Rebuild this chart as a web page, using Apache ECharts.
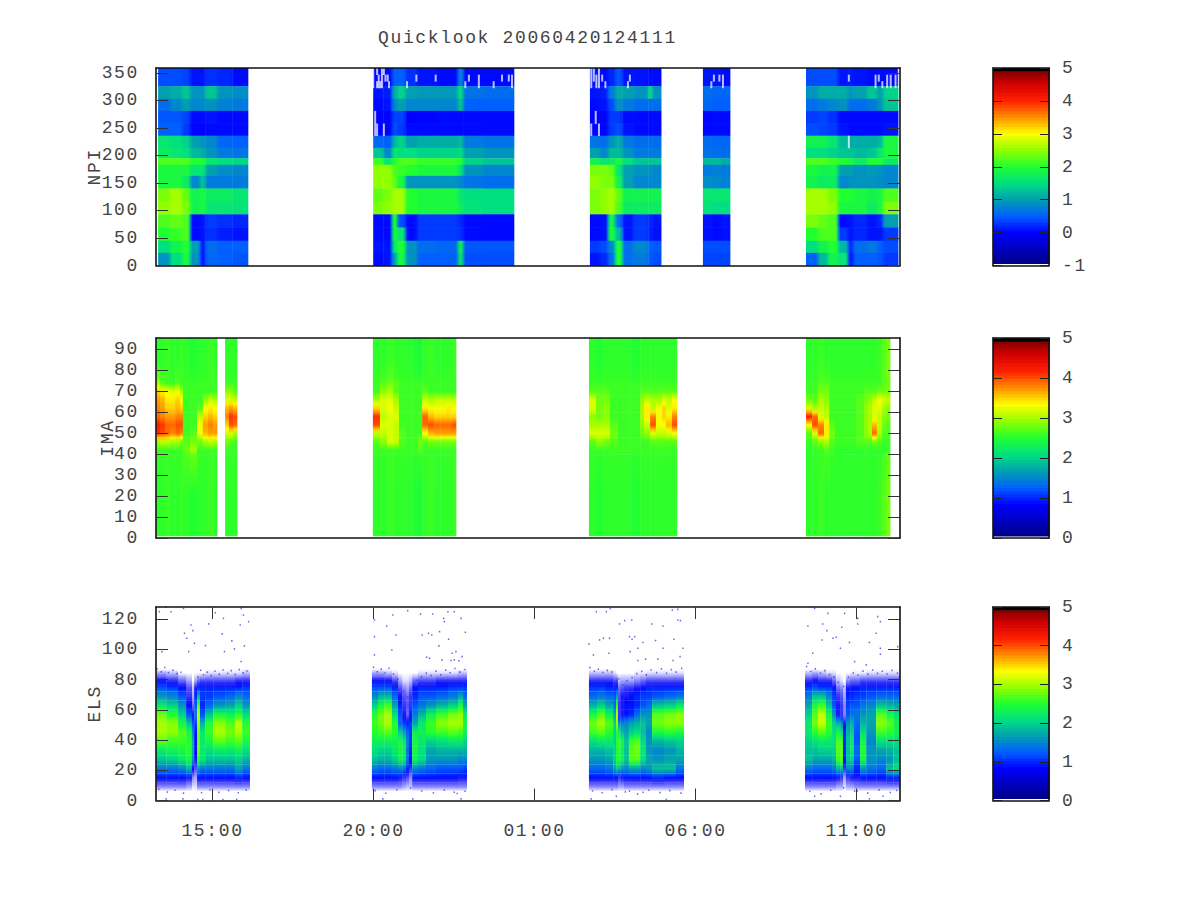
<!DOCTYPE html>
<html><head><meta charset="utf-8">
<style>html,body{margin:0;background:#fff}#c{width:1200px;height:900px}svg text{letter-spacing:1.65px}</style>
<script src="https://cdn.jsdelivr.net/npm/echarts@6/dist/echarts.min.js"></script>
</head><body><div id="c"></div>
<script>
const titleText = 'Quicklook 20060420124111';
const timeTicks = [15,20,25,30,35];
const timeLabels = ['15:00','20:00','01:00','06:00','11:00'];
const npiTicks = [0,50,100,150,200,250,300,350];
const imaTicks = [0,10,20,30,40,50,60,70,80,90];
const elsTicks = [0,20,40,60,80,100,120];

// NPI: sector edges (deg, top to bottom), time edges (hours), rows of log values
const npiEdges = [359,326,303,281,258,236,214,195,183,163,140,116,93,69,45,23,0];
const npiT1 = [13.31,13.68,14.05,14.30,14.61,14.77,15.14,15.61,16.10];
const npi1 = [
[.4,.4,.35,.1,.1,.25,.2,.05],[1.0,1.1,1.3,.9,.9,1.3,.9,.85],[.6,.8,1.0,.8,.8,.9,.75,.7],[.45,.45,.35,.05,.05,.1,.05,.05],
[.5,.5,.3,.02,.02,.05,.05,.05],[1.6,1.5,1.4,1.0,.9,.8,.55,.5],[1.7,1.6,1.5,1.2,1.1,.9,.7,.65],[2.2,2.2,2.2,2.0,2.0,1.6,1.5,1.45],
[1.9,1.9,1.9,1.6,1.6,1.0,.85,.8],[1.9,1.9,1.7,.8,1.3,.7,.7,.7],[2.4,2.6,2.3,1.8,1.9,1.7,1.7,1.6],[2.5,2.6,2.4,1.8,1.9,1.6,1.6,1.55],
[2.2,2.3,2.2,.05,.1,.3,.25,.2],[2.0,2.1,2.2,.05,.1,.25,.15,.1],[1.5,1.8,2.0,1.0,.1,.6,.5,.5],[.9,1.5,1.9,.9,.1,.55,.5,.45]];
const npiT2 = [19.99,20.30,20.57,20.73,20.98,21.35,21.97,22.62,22.78,23.40,24.36];
const npi2 = [
[.05,.05,.5,.5,.25,.1,.05,.8,.05,.05],[.1,.15,1.1,1.4,1.0,.95,.95,1.5,.65,.6],[.05,.1,.8,1.0,.8,.8,.8,1.3,.5,.5],[.02,.02,.35,.35,0,.02,.05,.05,.05,.05],
[.02,.02,.4,.3,.05,.05,.05,.05,.05,.05],[.55,.5,1.2,1.4,1.0,1.1,1.1,1.2,.7,.65],[1.3,.8,1.6,1.5,1.5,1.4,1.4,1.5,1.0,.9],[2.1,1.6,2.0,2.2,2.2,2.1,2.1,2.0,1.4,1.3],
[2.5,2.5,2.2,2.1,2.0,1.9,1.9,1.6,.9,.8],[2.5,2.5,2.3,1.9,.9,.9,.9,.8,.65,.6],[2.3,2.4,2.6,2.6,2.0,1.9,1.9,1.6,1.5,1.5],[2.4,2.5,2.6,2.6,2.0,1.9,1.9,1.7,1.55,1.5],
[.05,.05,2.0,.4,.05,.3,.3,.2,.05,.05],[.05,.05,1.9,1.6,.05,.3,.3,.25,.05,.05],[.1,.1,1.6,2.0,.9,.6,.55,1.8,.45,.45],[.05,.1,1.0,1.9,.9,.5,.5,1.6,.4,.4]];
const npiT3 = [26.72,27.03,27.28,27.50,27.72,28.06,28.53,28.65,28.93];
const npi3 = [
[.1,.05,.2,.45,.1,.1,.05,.05],[.1,.15,.7,1.1,1.0,.9,1.5,.9],[.05,.1,.4,.9,.7,.6,.6,.6],[.02,.02,.3,.3,.05,.05,.05,.05],
[.02,.02,.3,.4,.1,.05,.05,.05],[.65,.6,.9,1.1,.7,.6,.6,.6],[1.0,.8,1.2,1.2,.9,.7,.7,.7],[1.8,1.6,1.7,1.9,1.5,1.3,1.3,1.3],
[2.4,2.4,2.3,1.6,1.0,.9,.9,.8],[2.5,2.4,2.4,1.8,1.0,.8,.8,.8],[2.4,2.5,2.6,2.3,1.8,1.8,1.8,1.8],[2.4,2.5,2.6,2.2,1.7,1.7,1.7,1.7],
[.05,.08,1.8,.6,.1,.3,.2,.1],[.05,.08,1.9,1.2,.1,.3,.15,.08],[.3,.4,.8,2.0,.6,.8,.5,.45],[.1,.2,.6,2.0,.6,.7,.45,.4]];
const npiT4 = [30.23,30.51,30.79,31.07];
const npi4 = [
[.1,.1,.05],[.6,.55,.55],[.55,.5,.5],[.03,.05,.05],[.03,.05,.05],[.6,.55,.55],[.65,.6,.6],[1.2,1.2,1.1],
[.7,.75,.7],[.85,.8,.75],[1.6,1.6,1.6],[1.55,1.5,1.5],[.1,.05,.1],[.08,.05,.08],[.4,.4,.4],[.35,.35,.35]];
const npiT5 = [33.43,33.80,34.11,34.42,34.73,34.89,35.32,35.63,35.82,36.29];
const npi5 = [
[.4,.4,.4,.1,.15,.1,.05,.05,.05],[.9,1.1,1.1,1.1,.9,1.0,1.3,1.0,1.4],[.6,.7,.8,.9,.6,.6,.7,.9,1.3],[.3,.35,.25,.05,.05,.05,.05,.05,.05],
[.4,.35,.3,.1,.05,.05,.05,.05,.1],[1.8,1.8,1.6,1.2,1.1,1.1,1.1,1.2,1.9],[1.5,1.5,1.4,1.3,1.3,1.2,1.3,1.6,1.9],[2.2,2.2,2.1,2.0,1.9,1.7,2.0,2.0,1.7],
[1.9,1.8,1.8,1.0,1.0,.9,.95,.9,.8],[1.8,1.7,1.7,.8,.9,.9,.9,.85,.8],[2.6,2.6,2.4,2.0,2.0,1.9,1.8,1.9,2.2],[2.6,2.6,2.5,1.9,1.9,1.9,1.7,1.9,2.4],
[2.4,2.3,2.2,.05,.1,.2,.1,.2,1.0],[2.0,2.2,2.2,.3,.1,.2,.1,.1,.3],[1.5,1.8,2.0,1.2,.2,.6,.7,.5,.4],[.5,1.2,1.8,1.6,.1,.5,.5,.45,.3]];
// NPI data dropouts: [hour, low deg, high deg]
const npiDrops = [[19.96,347,359],[20.08,347,359],[20.23,347,359],[20.29,347,359],[19.96,335,347],[20.13,335,347],[20.23,335,347],[20.34,335,347],[20.41,335,347],
[19.96,323,335],[20.08,323,335],[20.13,323,335],[20.18,323,335],[20.23,323,335],[20.45,323,335],[20.02,258,281],[20.08,236,258],[20.29,236,258],[20.02,236,258],
[21.01,323,335],[21.30,335,347],[21.90,335,347],[22.82,323,335],[22.93,335,347],[23.24,323,347],[23.70,323,335],[23.96,335,347],[24.17,335,347],[24.27,323,347],
[26.73,323,359],[26.81,335,359],[26.89,323,347],[26.97,323,359],[27.07,335,347],[27.17,323,335],[27.87,323,335],[27.93,335,347],[26.73,236,258],[26.87,258,281],[26.97,236,258],
[30.46,323,335],[30.54,335,347],[30.71,335,347],[30.82,323,347],[34.73,335,347],[35.56,323,347],[35.66,335,347],[35.77,323,335],[35.92,323,347],[36.03,323,347],[36.18,323,347],[36.28,323,359],[34.73,214,236]];

// IMA: energy edges, time edges, rows of log values (top to bottom)
const imaEdges = [95.4,76,72,68,64,60,56,52,48,44,40,1];
const imaT1 = [13.25,13.37,13.52,13.68,13.84,13.99,14.08,14.30,14.52,14.70,14.86,15.02,15.14];
const ima1 = [
[2.55,2.55,2.6,2.55,2.55,2.6,2.55,2.5,2.55,2.55,2.6,2.55],[3.0,2.7,2.6,2.6,2.7,2.6,2.6,2.6,2.6,2.6,2.6,2.6],[3.5,3.4,3.3,3.2,3.3,3.0,2.6,2.6,2.6,2.6,2.6,2.6],
[3.7,3.6,3.4,3.4,3.5,3.3,2.6,2.6,2.6,2.9,3.1,3.0],[3.8,3.7,3.5,3.5,3.6,3.5,2.6,2.6,2.7,3.3,3.4,3.3],[3.9,3.8,3.7,3.7,3.8,3.8,2.6,2.6,3.1,3.5,3.6,3.5],
[4.2,4.1,3.9,3.9,4.0,4.0,2.6,2.6,3.3,3.7,3.8,3.7],[4.1,4.0,3.9,3.8,3.9,3.8,2.6,2.7,3.3,3.6,3.7,3.7],[3.0,3.1,3.1,3.0,3.0,2.8,2.7,2.8,2.8,3.0,3.1,3.0],
[2.6,2.6,2.6,2.6,2.6,2.6,2.8,3.0,2.6,2.6,2.6,2.6],[2.55,2.55,2.6,2.55,2.55,2.6,2.55,2.5,2.55,2.55,2.6,2.55]];
const imaT1b = [15.39,15.51,15.64,15.76];
const ima1b = [[2.55,2.55,2.55],[2.6,2.6,2.6],[2.9,2.9,2.7],[3.2,3.2,3.1],[3.6,3.7,3.6],[3.8,4.1,4.0],[3.5,4.0,3.9],[3.2,3.2,3.0],[2.8,2.7,2.6],[2.6,2.6,2.6],[2.55,2.55,2.55]];
const imaT2 = [19.98,20.20,20.42,20.61,20.79,21.01,21.20,21.38,21.51,21.69,21.88,22.07,22.25,22.41,22.56];
const ima2 = [
[2.55,2.55,2.6,2.55,2.55,2.55,2.5,2.45,2.55,2.6,2.55,2.55,2.55,2.6],[2.6,2.7,2.8,2.7,2.6,2.6,2.6,2.6,2.6,2.6,2.6,2.6,2.6,2.6],[2.6,2.9,3.0,2.7,2.6,2.6,2.6,2.6,2.7,2.6,2.6,2.6,2.6,2.6],
[3.0,3.2,3.2,3.0,2.6,2.6,2.6,2.6,3.1,3.0,3.1,3.1,3.1,3.1],[3.5,3.2,3.3,3.1,2.6,2.6,2.6,2.6,3.4,3.3,3.3,3.3,3.4,3.3],[4.1,3.1,3.2,3.2,2.6,2.6,2.6,2.6,3.9,3.6,3.5,3.5,3.5,3.5],
[4.0,3.2,3.2,3.1,2.6,2.6,2.6,2.6,3.9,4.0,3.9,3.9,3.9,4.0],[3.1,3.1,3.2,3.1,2.7,2.6,2.6,2.6,3.3,3.6,3.7,3.7,3.7,3.7],[2.7,2.9,3.2,3.1,2.7,2.6,2.6,2.8,2.7,2.8,2.8,2.8,2.8,2.8],
[2.6,2.6,2.6,2.6,2.6,2.6,2.6,2.7,2.6,2.6,2.6,2.6,2.6,2.6],[2.55,2.55,2.6,2.55,2.55,2.55,2.5,2.45,2.55,2.6,2.55,2.55,2.55,2.6]];
const imaT3 = [26.69,26.91,27.13,27.34,27.59,27.97,28.28,28.40,28.59,28.77,28.96,29.08,29.27,29.42];
const ima3 = [
[2.55,2.5,2.55,2.55,2.55,2.5,2.55,2.55,2.55,2.55,2.55,2.55,2.55],[2.6,2.6,2.6,2.6,2.6,2.6,2.6,2.6,2.6,2.6,2.6,2.6,2.6],[2.7,2.7,2.7,2.6,2.6,2.6,2.7,2.7,2.7,2.7,2.7,2.7,2.7],
[3.2,2.8,2.8,2.6,2.6,2.6,2.9,3.1,3.0,3.0,3.2,3.1,3.3],[3.2,2.8,2.9,2.6,2.6,2.6,3.0,3.4,3.1,3.3,3.5,3.2,3.4],[2.9,2.8,2.9,2.6,2.6,2.6,3.0,3.4,3.8,3.3,3.5,3.4,3.8],
[3.0,3.0,3.0,2.7,2.6,2.6,2.9,3.1,4.0,3.3,3.3,3.6,4.0],[3.2,3.2,3.2,2.8,2.6,2.6,2.8,2.9,3.2,3.1,3.1,3.2,3.3],[2.7,2.9,2.8,2.7,2.6,2.6,2.6,2.6,2.7,2.7,2.7,2.7,2.7],
[2.6,2.6,2.6,2.6,2.6,2.6,2.6,2.6,2.6,2.6,2.6,2.6,2.6],[2.55,2.5,2.55,2.55,2.55,2.5,2.55,2.55,2.55,2.55,2.55,2.55,2.55]];
const imaT4 = [33.43,33.62,33.80,33.99,34.15,34.33,34.64,34.98,35.23,35.35,35.48,35.63,35.79,35.91,36.04];
const ima4 = [
[2.55,2.55,2.6,2.55,2.55,2.55,2.55,2.55,2.55,2.55,2.55,2.6,2.7,2.8],[2.6,2.6,2.7,2.7,2.6,2.6,2.6,2.6,2.6,2.6,2.6,2.6,2.7,2.8],[2.6,2.6,2.8,2.8,2.6,2.6,2.6,2.6,2.7,2.7,2.7,2.8,2.8,2.8],
[2.8,2.7,3.0,2.9,2.6,2.6,2.6,2.7,2.8,2.9,3.1,3.3,3.2,3.1],[3.2,3.0,3.1,3.0,2.6,2.6,2.6,2.7,2.9,3.0,3.2,3.2,3.0,2.9],[4.2,3.9,3.2,3.1,2.6,2.6,2.6,2.7,2.9,3.0,3.2,3.1,2.9,2.8],
[3.3,4.0,3.8,3.4,2.7,2.6,2.6,2.7,2.9,3.0,3.6,3.1,2.8,2.7],[2.7,3.2,3.9,3.4,2.8,2.6,2.6,2.7,2.9,3.0,3.9,3.0,2.7,2.7],[2.6,2.7,2.9,3.0,2.7,2.6,2.6,2.7,2.7,2.7,2.8,2.7,2.6,2.6],
[2.55,2.6,2.6,2.7,2.6,2.55,2.55,2.55,2.6,2.55,2.55,2.55,2.55,2.6],[2.55,2.55,2.6,2.55,2.55,2.55,2.55,2.55,2.55,2.55,2.55,2.6,2.7,2.8]];

// ELS: level edges, time edges, one array of values per time column (top level to bottom level)
const elsEdges = [87,82,77,72,66,60,54,48,42,36,30,24,18,12,6];
const elsT1 = [13.25,13.56,13.93,14.18,14.36,14.43,14.52,14.61,14.77,15.02,15.39,15.70,15.92,16.16];
const els1 = [
[.3,.8,1.2,1.6,2.2,2.8,3.0,3.0,2.7,2.2,1.9,1.4,.9,.4],[.2,.7,1.1,1.5,2.0,2.5,2.9,2.9,2.6,2.3,2.0,1.4,.9,.4],[0,.5,.9,1.2,1.6,2.0,2.4,2.7,2.6,2.4,2.2,1.5,.9,.4],
[0,.3,.6,.7,.9,1.2,1.9,2.4,2.5,2.5,2.4,1.8,.8,.3],[0,0,.2,.3,.5,.8,1.2,1.6,1.8,1.8,1.6,.9,.4,.1],[0,.3,.8,1.0,1.2,1.4,1.1,.9,.9,.9,.8,.6,.3,.1],
[0,.5,1.0,1.8,2.7,3.1,3.0,2.8,2.8,2.8,2.5,1.6,.9,.4],[0,.6,1.0,1.1,1.0,1.2,1.8,2.2,2.2,2.2,2.2,1.4,.9,.4],[.1,.6,1.0,1.1,1.3,1.9,2.5,2.6,2.4,2.1,1.9,1.4,.9,.4],
[.1,.6,1.0,1.2,1.6,2.4,2.9,3.0,2.7,2.2,1.9,1.4,.9,.4],[.1,.6,1.0,1.3,1.7,2.3,2.7,2.8,2.6,2.2,1.9,1.4,.9,.4],[.1,.7,1.0,1.5,2.0,2.5,3.1,3.0,2.7,2.3,2.0,1.7,1.0,.4],
[.2,.7,1.1,1.3,1.6,2.1,2.5,2.6,2.4,2.1,1.8,1.4,.9,.4]];
const elsT2 = [19.95,20.14,20.33,20.57,20.76,20.89,21.01,21.10,21.20,21.38,21.63,21.94,22.31,22.62,22.78,22.90];
const els2 = [
[.3,.8,1.2,1.5,2.0,2.5,2.6,2.5,2.3,2.1,1.9,1.4,.9,.4],[.3,.8,1.2,1.8,2.4,2.8,2.8,2.6,2.3,2.0,1.8,1.3,.9,.4],[.2,.8,1.2,1.8,2.6,3.0,3.0,2.7,2.3,2.0,1.8,1.3,.9,.4],
[.1,.6,1.0,1.3,1.7,2.1,2.5,2.5,2.3,2.2,2.0,1.4,.9,.4],[0,.3,.6,.8,1.0,1.2,1.3,2.0,2.4,2.4,2.3,1.5,.8,.4],[0,.1,.4,.6,.7,.8,1.1,1.7,2.2,2.3,2.2,1.4,.7,.3],
[0,.1,.3,.5,.6,.5,1.0,1.3,1.5,1.4,1.4,1.0,.6,.2],[0,.2,.5,.7,.7,.8,1.1,1.1,1.1,1.0,.9,.7,.4,.2],[0,.5,.9,1.0,1.2,1.4,1.7,2.3,2.4,2.4,2.3,1.5,.9,.4],
[.1,.6,1.0,1.2,1.4,1.8,2.2,2.3,2.2,2.1,2.1,1.4,.9,.4],[.1,.6,1.0,1.2,1.6,2.3,2.6,2.5,2.0,1.7,1.6,1.3,.9,.4],[.1,.7,1.0,1.3,1.8,2.6,2.9,2.6,2.1,1.8,1.6,1.2,.9,.4],
[.1,.7,1.1,1.4,2.0,2.8,3.0,2.7,2.2,1.8,1.6,1.2,.9,.4],[.2,.7,1.1,1.7,2.4,2.9,3.0,2.6,2.2,1.8,1.5,1.2,.8,.4],[.2,.7,1.1,1.3,1.7,2.2,2.4,2.3,2.0,1.8,1.5,1.1,.8,.4]];
const elsT3 = [26.69,26.94,27.19,27.44,27.53,27.59,27.66,27.78,27.93,28.09,28.28,28.46,28.65,29.02,29.39,29.64];
const els3 = [
[.2,.7,1.1,1.3,1.8,2.4,2.8,2.6,2.1,1.8,1.6,1.3,.9,.4],[.2,.7,1.1,1.4,2.0,2.7,3.0,2.7,2.2,1.8,1.6,1.3,.9,.4],[.2,.7,1.0,1.3,1.7,2.3,2.7,2.5,2.2,1.9,1.7,1.4,.9,.4],
[.1,.6,1.0,1.2,1.3,1.7,2.0,2.0,2.0,2.0,2.0,1.7,.9,.4],[0,.6,1.0,1.7,2.6,3.1,3.0,2.5,2.5,2.4,2.5,2.0,.9,.4],[0,.2,.5,.6,.7,.7,1.6,2.3,2.6,2.6,2.5,1.8,.7,.3],
[0,.3,.6,.8,.8,.8,1.5,1.9,2.4,2.3,2.3,1.6,.8,.3],[0,.3,.7,.8,.9,.9,1.5,1.7,1.9,1.9,1.9,1.5,.9,.4],[0,.3,.7,.9,.9,1.0,1.7,2.0,2.6,2.7,2.7,1.7,.9,.4],
[.05,.4,.8,1.0,1.0,1.3,1.8,2.1,2.7,2.8,2.7,1.7,.9,.4],[.05,.5,.9,1.1,1.2,1.6,1.9,1.9,2.1,2.2,2.1,1.5,.9,.4],[.1,.6,1.0,1.1,1.3,1.6,1.7,1.5,1.6,1.6,1.7,1.6,.9,.4],
[.1,.6,1.0,1.2,1.9,2.7,2.8,2.4,1.8,1.5,1.6,1.9,1.0,.4],[.1,.6,1.0,1.3,2.0,2.8,2.9,2.5,1.9,1.6,1.7,1.9,.9,.4],[.1,.6,1.0,1.4,2.2,2.9,2.9,2.4,2.0,1.8,1.7,1.4,.9,.4]];
const elsT4 = [33.40,33.62,33.80,34.05,34.24,34.36,34.49,34.58,34.67,34.80,34.92,35.11,35.30,35.61,35.92,36.14,36.35];
const els4 = [
[.2,.7,1.1,1.4,1.7,2.0,2.2,2.2,2.0,1.9,1.9,1.4,.9,.4],[.3,.8,1.2,1.9,2.4,2.7,2.8,2.5,2.1,1.9,1.7,1.3,.9,.4],[.2,.7,1.1,1.9,2.6,3.1,3.1,2.7,2.2,2.0,1.7,1.3,.9,.4],
[.1,.7,1.1,1.5,1.9,2.4,2.6,2.5,2.2,2.0,1.7,1.3,.9,.4],[.1,.5,.9,1.1,1.2,1.6,2.0,2.1,2.1,2.0,1.8,1.4,.9,.4],[0,.2,.5,.7,.8,.8,1.8,2.4,2.7,2.7,2.6,1.8,.8,.3],
[0,.1,.4,.6,.7,.7,1.6,2.1,2.6,2.7,2.7,1.9,.7,.3],[0,0,.2,.3,.4,.4,.8,1.0,1.0,1.0,.9,.7,.3,.1],[0,.4,.8,1.0,1.1,1.2,1.6,1.8,1.9,1.9,1.9,1.5,.7,.3],
[.05,.5,.9,1.0,1.2,1.4,1.8,2.0,2.2,2.2,2.0,1.5,.8,.3],[.05,.5,.9,1.1,1.2,1.4,1.3,1.2,1.2,1.3,1.2,1.0,.8,.4],[.05,.6,1.0,1.1,1.4,1.6,1.8,2.1,2.4,2.5,2.4,1.6,.9,.4],
[.1,.6,1.0,1.2,1.5,1.7,1.7,1.6,1.5,1.6,1.6,1.4,.9,.4],[.1,.6,1.0,1.3,1.9,2.7,2.9,2.6,2.1,1.7,1.5,1.3,.9,.4],[.1,.6,1.0,1.3,1.8,2.4,2.7,2.5,2.1,1.8,1.6,1.9,1.0,.4],
[.1,.6,1.0,1.3,1.7,2.1,2.3,2.3,2.1,1.9,1.9,2.1,1.0,.4]];
// isolated ELS counts outside the main population: [hour, level]
const elsDots = [[13.35,124.9],[13.71,124.9],[14.33,116.1],[14.88,116.8],[14.13,110.6],[14.39,112.4],[15.30,110.2],[14.20,107.3],[14.44,104],[14.26,98.5],[14.78,102.5],[15.60,105.6],[15.68,100.3],[15.37,98.5],[15.99,102.3],[15.96,122.7],[15.34,120.5],[15.09,124.2],[16.12,118.3],[15.86,116.1],[15.89,91.9],[13.43,98.5],[13.56,127.8],[14.10,127.1],[15.89,127.1],
[20.60,122.7],[20.41,115.4],[21.06,125.6],[21.46,123.4],[21.84,123.4],[22.31,124.9],[22.51,124.9],[22.18,120.5],[22.20,118.3],[22.72,120.5],[20.03,119.4],[20.70,109.5],[20.03,108.4],[20.57,99.6],[20.03,96.3],[21.51,109.5],[21.71,110.6],[22.05,111.7],[21.81,109.5],[22.33,106.7],[22.85,111.3],[22.03,102.3],[22.44,97.4],[22.56,98.5],[21.65,94.8],[21.74,94.1],[22.13,93],[22.41,92.6],[22.51,93],[22.65,92.4],[22.75,95.2],
[26.92,124.9],[27.23,124.9],[27.35,127.1],[27.64,116.8],[27.80,119],[28.02,119.4],[28.64,116.8],[28.99,115.4],[29.28,126],[29.45,126.4],[29.45,119.4],[29.53,119],[26.69,103.6],[27.02,106.2],[27.33,107.3],[27.14,107.3],[27.31,97.4],[26.83,96.3],[27.95,108.4],[28.11,108.4],[28.03,106.7],[27.97,98.5],[28.21,100.7],[28.37,104.5],[28.76,105.8],[29.33,106.7],[28.99,100.7],[29.61,100.7],[28.21,92.6],[28.45,93.5],[28.83,93.5],[29.30,92.6],[29.52,95.2],
[33.70,127.1],[34.11,123.8],[34.63,123.8],[35.04,116.8],[35.04,120.5],[35.66,121.6],[35.74,118.3],[33.49,115.4],[33.95,116.8],[34.54,114.6],[34.08,112.4],[35.61,110.6],[34.27,107.3],[34.37,108],[33.93,106.2],[34.78,104.5],[35.40,104.5],[35.74,100.7],[33.64,97.4],[36.28,101.8],[35.74,96.8],[34.50,100.7],[34.94,91.9],[35.30,89.7],[33.49,90.8],
[13.56,1.1],[14.08,1.1],[14.54,.7],[14.70,.7],[15.75,.7],[15.32,.7],[20.29,1.1],[21.22,1.1],[22.72,1.1],[22.51,5.5],[26.76,1.1],[27.54,2.8],[27.95,6.2],[29.09,.7],[28.37,5.5],[33.70,2.8],[34.50,2.8],[34.94,6.2],[35.40,1.1],[35.82,2.8]];
// ELS counts around the fuzzy rim of the population: [hour, level]
const elsRim = [[13.28,87.2],[13.41,85.1],[13.52,88],[13.63,84.6],[13.77,86.2],[13.9,83.9],[14.02,84.8],[14.55,81.5],[14.63,86.1],[14.72,83.2],[14.84,84.9],[14.96,82.6],[15.08,85.5],[15.21,83.4],[15.33,86.3],[15.47,84.1],[15.58,85.9],[15.7,83.3],[15.83,86.6],[15.95,84.4],[16.07,85.7],
[20,88.1],[20.11,85.2],[20.24,86.9],[20.36,84.3],[20.48,87.5],[20.62,83.7],[20.76,80.4],[20.93,72.2],[21.06,68.4],[21.2,72.8],[21.33,79.6],[21.49,81.8],[21.64,84.3],[21.79,82.7],[21.94,85.6],[22.09,83.2],[22.24,86.2],[22.38,84.5],[22.53,87.3],[22.68,84.9],[22.84,86.7],
[26.72,87.9],[26.86,85.4],[26.98,86.8],[27.12,84.7],[27.26,86.1],[27.41,85],[27.62,80.5],[27.74,76.4],[27.87,79.2],[28.03,81.3],[28.18,83.9],[28.33,85.4],[28.47,83.1],[28.62,86.3],[28.79,84.6],[28.94,87.1],[29.1,84.2],[29.25,86.6],[29.4,84.9],[29.57,87.4],
[33.45,88.6],[33.58,85.3],[33.72,87.1],[33.88,84.2],[34.02,85.9],[34.16,83.3],[34.3,81.6],[34.43,78.2],[34.6,75.4],[34.75,81.5],[34.9,84.4],[35.05,82.9],[35.2,85.6],[35.35,83.6],[35.5,86.3],[35.65,84.1],[35.8,85.5],[35.95,83.7],[36.1,86.1],[36.27,84.3],
[13.33,7.4],[13.6,5.6],[13.84,6.8],[14.1,4.9],[14.66,5.2],[14.92,7.1],[15.2,5.4],[15.5,6.6],[15.8,5.1],[16.05,7],
[20.05,6.5],[20.38,4.8],[20.72,7.1],[21.15,8.2],[21.5,6.3],[21.86,5],[22.2,6.9],[22.6,4.6],[22.84,6.1],
[26.8,6.4],[27.1,5.1],[27.4,7.2],[27.82,5.7],[28.2,4.3],[28.55,6.8],[28.9,5.2],[29.2,6.5],[29.55,4.9],
[33.55,6.1],[33.9,4.4],[34.2,6.8],[34.6,8.4],[35.02,6.2],[35.35,4.9],[35.7,7],[36.05,5.3],[36.25,6.6]];

const palStops = [[0,[0,0,128]],[.167,[0,0,255]],[.25,[0,96,255]],[.333,[0,160,176]],[.417,[0,224,128]],[.5,[32,255,48]],[.583,[144,255,0]],[.667,[255,255,0]],[.75,[255,144,0]],[.833,[255,32,0]],[.92,[208,0,0]],[.985,[128,0,0]]];
function palette(f){
  if(f>=.985) return 'rgb(0,0,0)';
  if(f<=0) f=0;
  for(let i=1;i<palStops.length;i++){
    if(f<=palStops[i][0]){
      const a=palStops[i-1],b=palStops[i],t=(f-a[0])/(b[0]-a[0]);
      const c=a[1].map((v,k)=>Math.round(v+(b[1][k]-v)*t));
      return `rgb(${c[0]},${c[1]},${c[2]})`;
    }
  }
  return 'rgb(128,0,0)';
}
const npiColor = v => palette((v+1)/6);
const imaColor = v => palette(v/5);
const elsColor = v => {
  if(v<=0) return 'rgba(10,10,250,0)';
  if(v<.85) return `rgba(10,10,250,${(v/.85).toFixed(2)})`;
  return palette(v/5);
};

function rowCells(T,M,E,colorFn,mode){
  const out=[];
  M.forEach((row,r)=>row.forEach((v,c)=>{
    const item={x0:T[c],x1:T[c+1],y0:E[r],y1:E[r+1]};
    if(mode==='v'){
      const up=r>0?M[r-1][c]:v, dn=r<M.length-1?M[r+1][c]:v;
      item.grad=[colorFn((up+v)/2),colorFn(v),colorFn((dn+v)/2)];
    } else {
      const l=c>0?row[c-1]:v, rt=c<row.length-1?row[c+1]:v;
      item.hgrad=[colorFn((l+v)/2),colorFn(v),colorFn((rt+v)/2)];
    }
    out.push(item);
  }));
  return out;
}
function colCells(T,M,E,colorFn){
  const out=[];
  M.forEach((col,c)=>col.forEach((v,r)=>{
    const n=col.length;
    const top=r>0?colorFn((col[r-1]+v)/2):colorFn(0);
    const bot=r<n-1?colorFn((col[r+1]+v)/2):colorFn(0);
    out.push({x0:T[c],x1:T[c+1],y0:E[r],y1:E[r+1],grad:[top,colorFn(v),bot],ov:.1});
  }));
  return out;
}
function cellSeries(items,g){
  return {type:'custom',xAxisIndex:g*2,yAxisIndex:g*2,coordinateSystem:'cartesian2d',silent:true,animation:false,progressive:0,z:2,
    data:items.map(i=>[i.x0,i.y0]),
    renderItem:(p,api)=>{
      const i=items[p.dataIndex];
      const a=api.coord([i.x0,i.y0]),b=api.coord([i.x1,i.y1]);
      const w=b[0]-a[0];
      let fill=i.fill;
      if(i.grad) fill=new echarts.graphic.LinearGradient(0,0,0,1,[{offset:0,color:i.grad[0]},{offset:.5,color:i.grad[1]},{offset:1,color:i.grad[2]}]);
      if(i.hgrad){
        const t=Math.min(.5,2.5/w);
        fill=new echarts.graphic.LinearGradient(0,0,1,0,[{offset:0,color:i.hgrad[0]},{offset:t,color:i.hgrad[1]},{offset:1-t,color:i.hgrad[1]},{offset:1,color:i.hgrad[2]}]);
      }
      const ov=i.ov==null?.4:i.ov;
      return {type:'rect',shape:{x:a[0],y:a[1],width:w+ov,height:b[1]-a[1]+ov},style:{fill,opacity:i.op==null?1:i.op}};
    }};
}

const FONT='Liberation Mono';
const INK='#444';
const X0=13.245,X1=36.35;
const grids=[
 {left:156,right:300,top:68,height:197.5},
 {left:156,right:300,top:338,height:200},
 {left:156,right:300,top:607,height:193.5},
 {left:993,right:151,top:68,height:197.5},
 {left:993,right:151,top:338,height:200},
 {left:993,right:151,top:607,height:193.5}];
const line={show:true,onZero:false,lineStyle:{color:'#111',width:1.6}};
const xAxes=[],yAxes=[];
function mainAxes(g,yMax,ticks,name,gap,showX){
  const xBase={type:'value',gridIndex:g,min:X0,max:X1,axisLine:line,splitLine:{show:false},z:10};
  xAxes.push({...xBase,position:'bottom',
    axisTick:{show:showX,inside:true,length:12,customValues:timeTicks,lineStyle:{color:'#333'}},
    axisLabel:{show:showX,customValues:timeTicks,margin:21,fontFamily:FONT,fontSize:18,color:INK,formatter:v=>timeLabels[timeTicks.indexOf(v)]||''}});
  xAxes.push({...xBase,position:'top',axisTick:{show:showX,inside:true,length:12,customValues:timeTicks,lineStyle:{color:'#333'}},axisLabel:{show:false}});
  const yBase={type:'value',gridIndex:g,min:0,max:yMax,axisLine:line,splitLine:{show:false},z:10,
    axisTick:{show:true,inside:true,length:12,customValues:ticks,lineStyle:{color:'#333'}}};
  yAxes.push({...yBase,position:'left',name,nameLocation:'middle',nameGap:gap,nameRotate:90,nameMoveOverlap:false,nameTextStyle:{fontFamily:FONT,fontSize:18,color:INK},
    axisLabel:{customValues:ticks,margin:17,padding:[3,0,0,0],fontFamily:FONT,fontSize:18,color:INK}});
  yAxes.push({...yBase,position:'right',axisLabel:{show:false}});
}
function barAxes(g,lo,hi){
  const xBase={type:'value',gridIndex:g,min:0,max:1,axisLine:line,axisTick:{show:false},axisLabel:{show:false},splitLine:{show:false},z:10};
  xAxes.push({...xBase,position:'bottom'},{...xBase,position:'top'});
  const yBase={type:'value',gridIndex:g,min:lo,max:hi,interval:1,axisLine:line,splitLine:{show:false},z:10,
    axisTick:{show:true,inside:true,length:9,lineStyle:{color:'#222'}}};
  yAxes.push({...yBase,position:'left',axisLabel:{show:false}});
  yAxes.push({...yBase,position:'right',axisLabel:{margin:13,padding:[2,0,0,0],fontFamily:FONT,fontSize:18,color:INK}});
}
mainAxes(0,359,npiTicks,'NPI',52,false);
mainAxes(1,95.4,imaTicks,'IMA',39,false);
mainAxes(2,128,elsTicks,'ELS',52,true);
barAxes(3,-1,5);
barAxes(4,0,5);
barAxes(5,0,5);

function barItems(lo,hi){
  const levels=64, out=[], span=hi-lo;
  for(let i=0;i<levels;i++){
    const f0=i/levels,f1=(i+1)/levels;
    if(f1<.012) continue;
    out.push({x0:0,x1:1,y0:lo+span*f1,y1:lo+span*Math.max(f0,.012),fill:palette((f0+f1)/2),ov:.9});
  }
  out.reverse();
  out.push({x0:0,x1:1,y0:hi,y1:lo+span*.985,fill:'#000'});
  return out;
}

const npiItems=[].concat(
  rowCells(npiT1,npi1,npiEdges,npiColor,'h'),rowCells(npiT2,npi2,npiEdges,npiColor,'h'),rowCells(npiT3,npi3,npiEdges,npiColor,'h'),
  rowCells(npiT4,npi4,npiEdges,npiColor,'h'),rowCells(npiT5,npi5,npiEdges,npiColor,'h'),
  npiDrops.map(d=>({x0:d[0],x1:d[0]+.05,y0:d[2],y1:d[1],fill:'#fff',op:.72})));
const imaItems=[].concat(
  rowCells(imaT1,ima1,imaEdges,imaColor,'v'),rowCells(imaT1b,ima1b,imaEdges,imaColor,'v'),rowCells(imaT2,ima2,imaEdges,imaColor,'v'),
  rowCells(imaT3,ima3,imaEdges,imaColor,'v'),rowCells(imaT4,ima4,imaEdges,imaColor,'v'));
const elsItems=[].concat(colCells(elsT1,els1,elsEdges,elsColor),colCells(elsT2,els2,elsEdges,elsColor),colCells(elsT3,els3,elsEdges,elsColor),colCells(elsT4,els4,elsEdges,elsColor));

const chart=echarts.init(document.getElementById('c'),null,{renderer:'svg',width:1200,height:900});
chart.setOption({
  animation:false,backgroundColor:'#fff',
  title:{text:titleText,left:373,top:24,textStyle:{fontFamily:FONT,fontSize:18,fontWeight:'normal',color:INK}},
  grid:grids,xAxis:xAxes,yAxis:yAxes,
  series:[
    cellSeries(npiItems,0),cellSeries(imaItems,1),cellSeries(elsItems,2),
    {type:'scatter',xAxisIndex:4,yAxisIndex:4,data:elsDots.concat(elsRim),symbol:'rect',symbolSize:[1.4,1.6],itemStyle:{color:'#3030e0',opacity:.75},silent:true,z:3,animation:false},
    cellSeries(barItems(-1,5),3),cellSeries(barItems(0,5),4),cellSeries(barItems(0,5),5)
  ]
});
</script></body></html>
